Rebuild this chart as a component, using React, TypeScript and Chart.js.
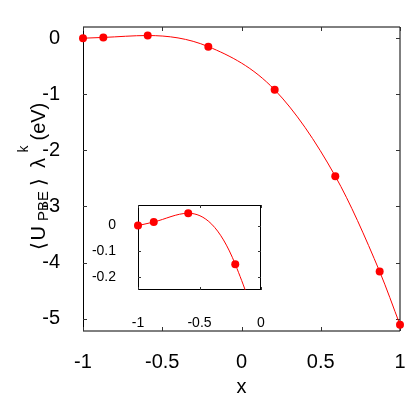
import React, { useEffect, useRef } from 'react';
import { Chart, registerables } from 'chart.js';

Chart.register(...registerables);

// Data
const xNodes = [-1, -0.8717, -0.5917, -0.2093, 0.2093, 0.5917, 0.8717, 1];
const energies = [0, 0.014, 0.048, -0.15, -0.92, -2.46, -4.16, -5.11];

const mainXTicks = [-1, -0.5, 0, 0.5, 1];
const mainYTicks = [0, -1, -2, -3, -4, -5];
const insetXTicks = [-1, -0.5, 0];
const insetYTicks = [0, -0.1, -0.2];

const xTitle = 'x';
const FONT = "'Liberation Sans', Arial, Helvetica, 'DejaVu Sans', sans-serif";
const RED = '#ff0000';

const fmt = (v: number) => {
  const n = Math.round(Number(v) * 1000) / 1000;
  return n === 0 ? '0' : String(n);
};

function framePlugin(xt: number[], yt: number[], len: number, crispAll: boolean) {
  return {
    id: 'frameTicks',
    beforeDatasetsDraw(chart: any) {
      const { ctx, chartArea: a, scales } = chart;
      ctx.save();
      ctx.strokeStyle = '#000';
      ctx.lineWidth = 1;
      const off = crispAll ? 0.5 : 0;
      ctx.beginPath();
      ctx.moveTo(a.left + 0.5, a.top);
      ctx.lineTo(a.left + 0.5, a.bottom);
      ctx.moveTo(a.left, a.top + (crispAll ? 0.5 : 0));
      ctx.lineTo(a.right, a.top + (crispAll ? 0.5 : 0));
      ctx.moveTo(a.right - off, a.top);
      ctx.lineTo(a.right - off, a.bottom);
      ctx.moveTo(a.left, a.bottom - off);
      ctx.lineTo(a.right, a.bottom - off);
      ctx.stroke();
      ctx.beginPath();
      for (const v of xt) {
        const px = Math.round(scales.x.getPixelForValue(v)) + 0.5;
        ctx.moveTo(px, a.bottom);
        ctx.lineTo(px, a.bottom - len);
        ctx.moveTo(px, a.top);
        ctx.lineTo(px, a.top + len);
      }
      for (const v of yt) {
        const py = Math.round(scales.y.getPixelForValue(v)) + 0.5;
        ctx.moveTo(a.left, py);
        ctx.lineTo(a.left + len, py);
        ctx.moveTo(a.right, py);
        ctx.lineTo(a.right - len, py);
      }
      ctx.strokeStyle = '#333';
      ctx.stroke();
      ctx.restore();
    },
  };
}

// y-axis title pieces: text, font size, baseline shift, offset along the text direction
const yTitleParts = [
  { t: '\u27E8', size: 20, dy: 0, at: 7 },
  { t: 'U', size: 20, dy: 0, at: 16.5 },
  { t: 'PBE', size: 15, dy: 3, at: 36 },
  { t: '\u27E9', size: 20, dy: 0, at: 71 },
  { t: '\u03BB', size: 20, dy: 0, at: 89 },
  { t: 'k', size: 14, dy: -17, at: 104.5 },
  { t: '(eV)', size: 20, dy: 0, at: 116.5 },
];

const titlePlugin = {
  id: 'titles',
  afterDraw(chart: any) {
    const { ctx, chartArea: a } = chart;
    ctx.save();
    ctx.fillStyle = '#000';
    ctx.font = `20px ${FONT}`;
    ctx.textAlign = 'center';
    ctx.textBaseline = 'alphabetic';
    ctx.fillText(xTitle, (a.left + a.right) / 2, 393);
    ctx.translate(45, 257);
    ctx.rotate(-Math.PI / 2);
    ctx.textAlign = 'left';
    for (const p of yTitleParts) {
      ctx.font = `${p.size}px ${FONT}`;
      ctx.fillText(p.t, p.at, p.dy);
    }
    ctx.restore();
  },
};

function axis(min: number, max: number, ticks: number[], size: number, padding: number, thickness: number, horizontal: boolean) {
  return {
    type: 'linear' as const,
    min,
    max,
    afterBuildTicks: (s: any) => {
      s.ticks = ticks.map((v) => ({ value: v }));
    },
    afterFit: (s: any) => {
      if (horizontal) s.height = thickness;
      else s.width = thickness;
      s.paddingLeft = 0;
      s.paddingRight = 0;
      s.paddingTop = 0;
      s.paddingBottom = 0;
    },
    grid: { display: false },
    border: { display: false },
    ticks: {
      font: { size, family: FONT },
      color: '#000',
      padding,
      maxRotation: 0,
      autoSkip: false,
      callback: (v: any) => fmt(v),
    },
  };
}

export default function App() {
  const mainRef = useRef<HTMLCanvasElement>(null);
  const insetRef = useRef<HTMLCanvasElement>(null);

  useEffect(() => {
    const dataset = (clip: any) => ({
      data: xNodes.map((x, i) => ({ x, y: energies[i] })),
      borderColor: RED,
      borderWidth: 1,
      backgroundColor: RED,
      pointBackgroundColor: RED,
      pointBorderWidth: 0,
      pointRadius: 4,
      pointHoverRadius: 4,
      cubicInterpolationMode: 'monotone' as const,
      clip,
    });

    const main = new Chart(mainRef.current!, {
      type: 'line',
      data: { datasets: [dataset(8)] },
      options: {
        animation: false,
        responsive: false,
        maintainAspectRatio: false,
        devicePixelRatio: 1,
        events: [],
        layout: { padding: { top: 27, right: 7, left: 0, bottom: 0 } },
        plugins: { legend: { display: false }, tooltip: { enabled: false } },
        scales: {
          x: axis(-1, 1, mainXTicks, 20, 11, 68, true),
          y: axis(-5.22, 0.2, mainYTicks, 20, 15, 83, false),
        },
      },
      plugins: [framePlugin(mainXTicks, mainYTicks, 4, false), titlePlugin],
    });

    const inset = new Chart(insetRef.current!, {
      type: 'line',
      data: { datasets: [dataset({ left: 8, top: 8, right: 8, bottom: 0 })] },
      options: {
        animation: false,
        responsive: false,
        maintainAspectRatio: false,
        devicePixelRatio: 1,
        events: [],
        layout: { padding: { top: 10, right: 14, left: 0, bottom: 0 } },
        plugins: { legend: { display: false }, tooltip: { enabled: false } },
        scales: {
          x: axis(-1, 0, insetXTicks, 14, 17, 45, true),
          y: axis(-0.25, 0.08, insetYTicks, 14, 14, 58, false),
        },
      },
      plugins: [framePlugin(insetXTicks, insetYTicks, 3, true)],
    });

    return () => {
      main.destroy();
      inset.destroy();
    };
  }, []);

  return (
    <div style={{ position: 'absolute', left: 0, top: 0, width: 407, height: 399, background: '#fff' }}>
      <canvas ref={mainRef} width={407} height={399} style={{ position: 'absolute', left: 0, top: 0, width: 407, height: 399 }} />
      <canvas ref={insetRef} width={195} height={140} style={{ position: 'absolute', left: 80, top: 195, width: 195, height: 140 }} />
    </div>
  );
}
